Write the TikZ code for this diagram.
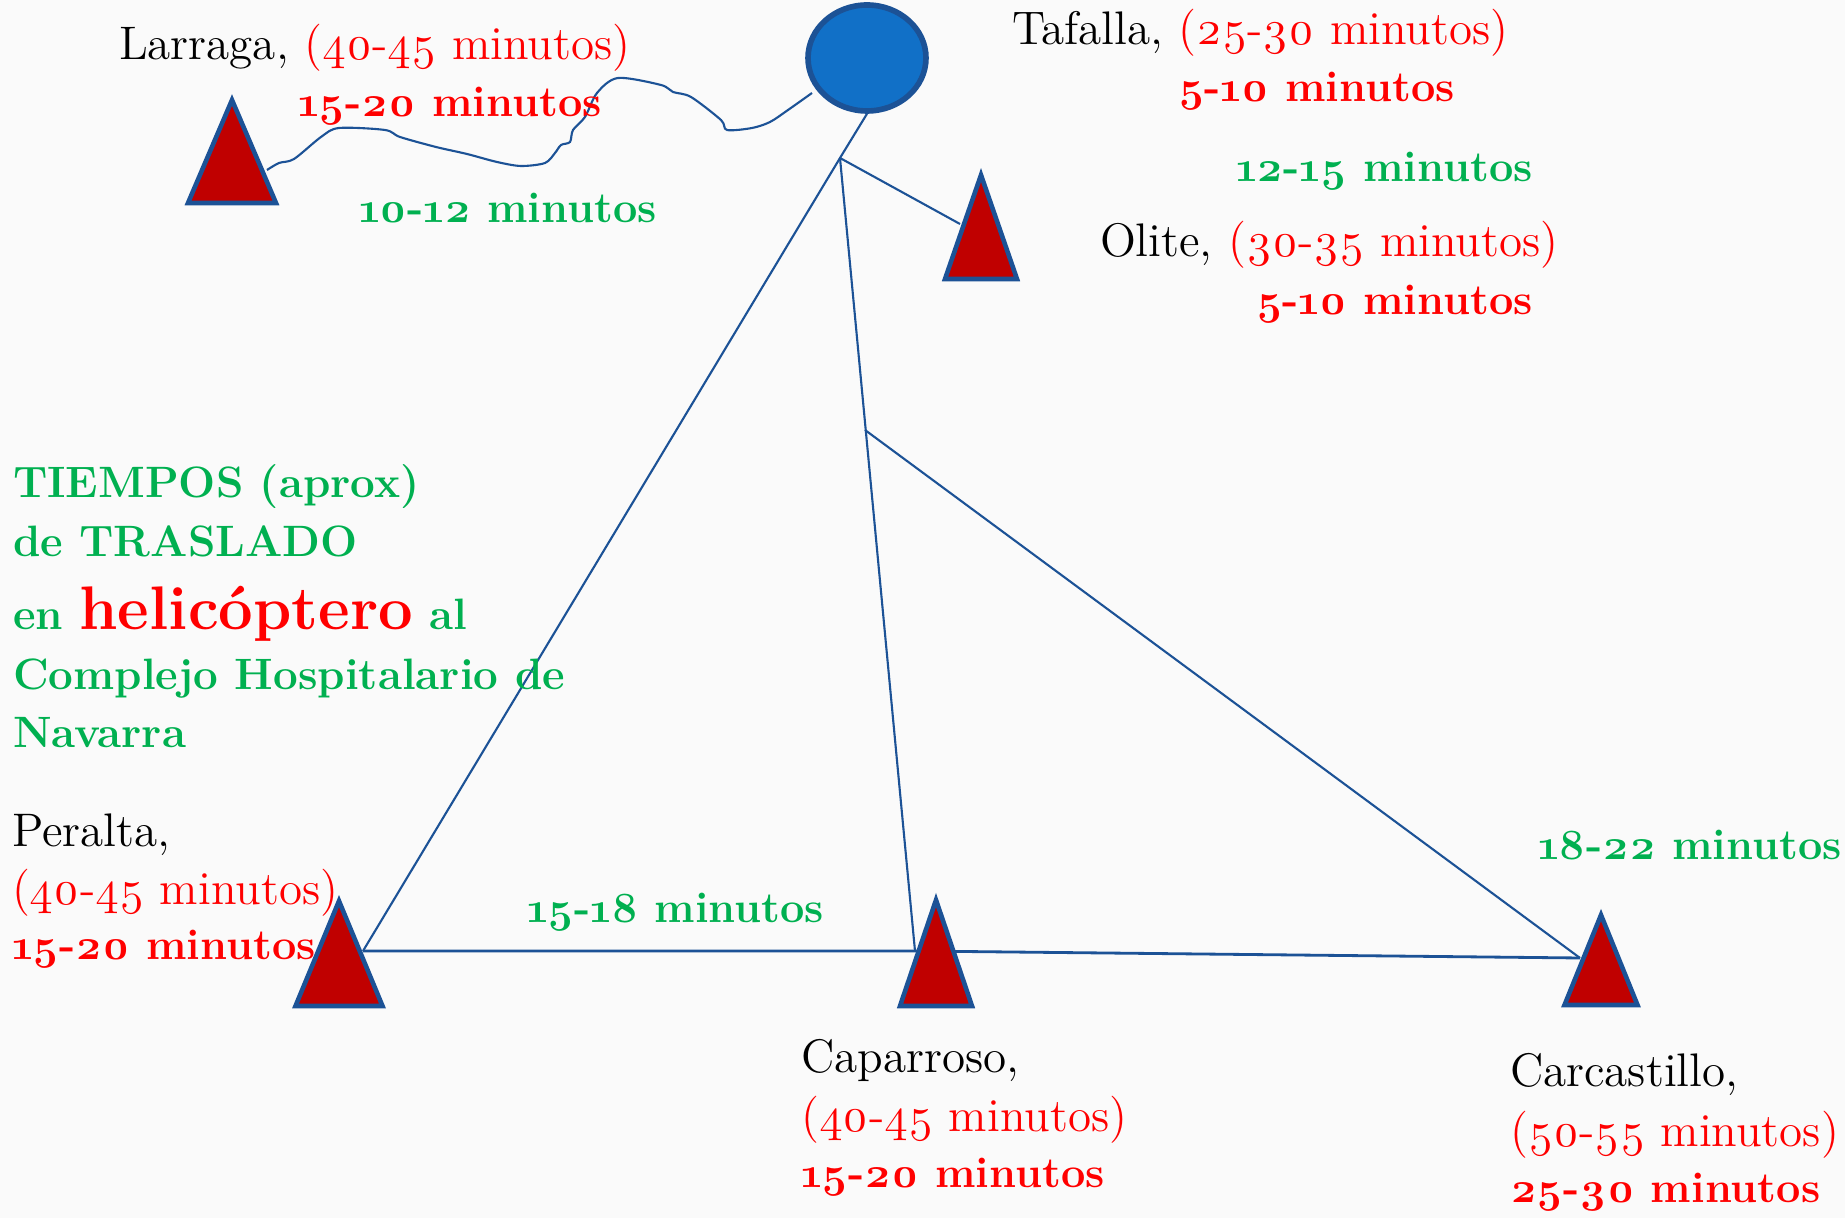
\documentclass[tikz,border=0pt]{standalone}
\usepackage{fontspec}
\setmainfont{Latin Modern Roman}[Numbers=OldStyle]
\usetikzlibrary{shapes.geometric, positioning}
\definecolor{linkblue}{RGB}{28,82,150}
\definecolor{hospblue}{RGB}{17,112,199}
\definecolor{sitered}{RGB}{192,0,0}
\definecolor{timegreen}{RGB}{0,176,80}
\tikzset{
	site/.style={isosceles triangle, isosceles triangle stretches, shape border rotate=90,
		fill=sitered, draw=linkblue, line width=1.3pt, inner sep=0pt, outer sep=0pt, anchor=apex},
	town/.style={anchor=base west, inner sep=0pt, font=\fontsize{13.4}{16}\selectfont},
	slow/.style={town, text=red},
	fast/.style={anchor=base west, inner sep=0pt, text=red, font=\fontsize{12.3}{15}\selectfont\bfseries},
	hop/.style={fast, text=timegreen},
	title/.style={anchor=base west, inner sep=0pt, text=timegreen, font=\fontsize{12.5}{16}\selectfont\bfseries},
}

\begin{document}
\begin{tikzpicture}[x=0.1mm, y=-0.1mm, line width=0.6pt]
	\fill[white!98!black] (0,0) rectangle (1845,1218);
	\useasboundingbox (0,0) rectangle (1845,1218);

	\node[ellipse, fill=hospblue, draw=linkblue, line width=1.6pt, minimum width=11.8mm, minimum height=10.6mm, inner sep=0pt] (hosp) at (867,58) {};

	\coordinate (junc) at (840,158);
	\coordinate (fork) at (865,430);
	\coordinate (larr) at (267,170);
	\coordinate (hospw) at (812,93);
	\coordinate (oli) at (960,224);
	\coordinate (pera) at (363,951);
	\coordinate (capa) at (915,951);
	\coordinate (carc) at (1580,958);

	\draw[linkblue] (hosp.south) -- (junc) -- (pera);
	\draw[linkblue] (junc) -- (oli);
	\draw[linkblue] (junc) -- (capa);
	\draw[linkblue] (fork) -- (carc);
	\draw[linkblue, line width=0.8pt] (pera) -- (capa) -- (carc);
	\draw[linkblue] plot[smooth, tension=0.5] coordinates {(larr) (279,163) (294,159) (321,137) (339,128) (385,130) (400,137) (436,147) (467,154) (497,162) (521,166) (545,163) (555,153) (561,145) (570,142) (573,130) (585,117) (597,93) (618,78) (661,85) (673,92) (691,97) (721,120) (727,130) (752,128) (770,122) (788,110) (hospw)};

	\node[site, minimum width=8.8mm, minimum height=10.3mm] (larraga) at (232,100) {};
	\node[site, minimum width=7.2mm, minimum height=10.4mm] (olite) at (981,175) {};
	\node[site, minimum width=8.7mm, minimum height=10.5mm] (peralta) at (339,901) {};
	\node[site, minimum width=7.2mm, minimum height=10.6mm] (caparroso) at (936,900) {};
	\node[site, minimum width=7.3mm, minimum height=9.0mm] (carcastillo) at (1601,915) {};

	\node[town] (larrT) at (118,60) {Larraga, \textcolor{red}{(40-45 minutos)}};
	\node[fast] (larrF) at (297,117) {15-20 minutos};
	\node[hop] (larrH) at (358,223) {10-12 minutos};

	\node[town] (tafT) at (1011,45) {Tafalla, \textcolor{red}{(25-30 minutos)}};
	\node[fast] (tafF) at (1177,102) {5-10 minutos};

	\node[hop] (oliH) at (1235,182) {12-15 minutos};
	\node[town] (oliT) at (1099,257) {Olite, \textcolor{red}{(30-35 minutos)}};
	\node[fast] (oliF) at (1255,315) {5-10 minutos};

	\node[title] (t1) at (12,498) {TIEMPOS (aprox)};
	\node[title] (t2) at (12,557) {de TRASLADO};
	\node[title] (t3) at (12,630) {en \textcolor{red}{\fontsize{17.5}{20}\selectfont helicóptero} al};
	\node[title] (t4) at (12,690) {Complejo Hospitalario de};
	\node[title] (t5) at (12,748) {Navarra};

	\node[town] (peraT) at (11,847) {Peralta,};
	\node[slow] (peraS) at (11,905) {(40-45 minutos)};
	\node[fast] (peraF) at (11,960) {15-20 minutos};

	\node[hop] (peraH) at (526,923) {15-18 minutos};

	\node[town] (capaT) at (800,1073) {Caparroso,};
	\node[slow] (capaS) at (800,1132) {(40-45 minutos)};
	\node[fast] (capaF) at (800,1188) {15-20 minutos};

	\node[hop] (carcH) at (1537,860) {18-22 minutos};
	\node[town] (carcT) at (1509,1087) {Carcastillo,};
	\node[slow] (carcS) at (1509,1147) {(50-55 minutos)};
	\node[fast] (carcF) at (1509,1203) {25-30 minutos};
\end{tikzpicture}
\end{document}
